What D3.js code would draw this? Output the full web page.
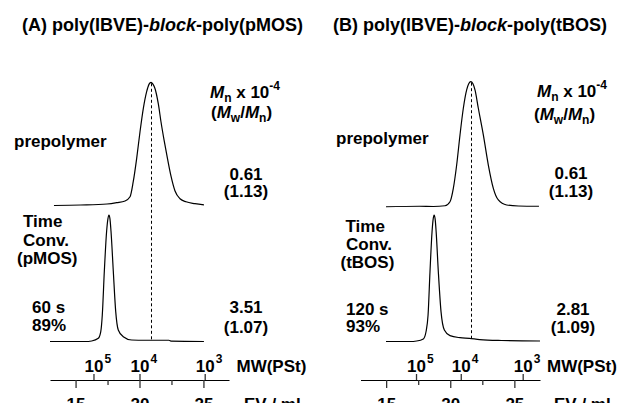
<!DOCTYPE html>
<html><head><meta charset="utf-8">
<script src="https://cdn.jsdelivr.net/npm/d3@7"></script>
<style>
html,body{margin:0;padding:0;background:#fff;}
svg{display:block;}
text{font-family:"Liberation Sans",Arial,Helvetica,sans-serif;font-weight:bold;fill:#000;}
</style></head><body><svg id="chart" width="621" height="403"></svg>
<script>
// ---------- DATA ----------
const evDomain = [13, 27];
const evTicks = [15, 17.5, 20, 22.5, 25];
const mwExponents = [5, 4, 3];
const mwEV_A = [16.4, 20.0, 25.1];
const mwEV_B = [17.33, 20.82, 25.65];

// [elution volume (ml), normalized RI intensity (%)]
const prepolymerA = [[13.31,0],[15.4,0.4],[17.46,1.2],[18.22,2.3],[18.87,3.7],[19.26,7.1],[19.51,19.3],[19.78,38.3],[20.04,59.9],[20.30,78.9],[20.56,92.4],[20.75,98.5],[20.90,100],[21.05,98.5],[21.21,95],[21.48,82],[21.68,68],[21.94,52],[22.19,38],[22.46,24],[22.77,12],[23.17,5.5],[23.64,3],[24.34,1.5],[25.04,0.5]];
const blockA = [[13.0,0],[15.74,0],[16.26,0.4],[16.78,2.5],[16.97,7.8],[17.09,21],[17.25,55.7],[17.43,87.3],[17.53,97],[17.61,100],[17.69,97],[17.77,87.3],[17.95,55.7],[18.14,23.6],[18.34,9.1],[18.73,3.8],[19.39,1.2],[20.43,1.0],[22.3,1.0],[22.5,0.3],[25.04,0]];
const prepolymerB = [[14.99,0.2],[17.6,0.6],[18.68,0.4],[19.59,1.0],[19.98,4.2],[20.24,14.9],[20.50,33.5],[20.76,57.5],[21.02,78.8],[21.28,93.4],[21.45,98.5],[21.60,100],[21.76,98.5],[21.93,93.4],[22.19,78.8],[22.58,57.5],[22.97,33.5],[23.36,14.9],[23.75,5.6],[24.40,1.6],[25.31,0.8],[26.92,0.6]];
const blockB = [[14.99,0],[16.86,0],[17.38,0.4],[17.90,2.0],[18.11,7.7],[18.27,20.9],[18.42,55.2],[18.58,86.8],[18.67,97],[18.74,100],[18.82,97],[18.90,86.8],[19.07,55.2],[19.28,23.6],[19.54,9.1],[19.98,4.6],[20.76,3.0],[21.49,2.5],[22.3,1.5],[24.0,0.8],[27.0,0.4]];
const prepolymerPeakEV = [20.90, 21.60];

const panelLetters = ["(A)", "(B)"];
const monomers = ["pMOS", "tBOS"];
const prepolymerMn = ["0.61", "0.61"];
const prepolymerPDI = ["(1.13)", "(1.13)"];
const blockTime = ["60 s", "120 s"];
const blockConv = ["89%", "93%"];
const blockMn = ["3.51", "2.81"];
const blockPDI = ["(1.07)", "(1.09)"];

// ---------- LAYOUT ----------
const svg = d3.select("#chart");
const FS = 17;
const panels = [
  {xr:[50,229], mwEV: mwEV_A, pre: prepolymerA, blk: blockA,
   title:[22,31], preLbl:[14,147], mnHdr:[210,97.5], pdiHdr:[211,118], preNum:[246,180,197],
   time:[[23,226.5],[23,245.5],[17,264]], tc:[[32,313.3],[32,330.7]], blkNum:[246,313.3,332.7],
   preY:[205.5,82.3], blkY:[341.5,215], mwLbl:236.5, evLbl:244},
  {xr:[360.5,540], mwEV: mwEV_B, pre: prepolymerB, blk: blockB,
   title:[333,31], preLbl:[336,144], mnHdr:[537,97], pdiHdr:[534,120], preNum:[571,179,197],
   time:[[345.5,231.5],[346,250],[340.5,268]], tc:[[346,315],[346,332]], blkNum:[573,315,333],
   preY:[207,81.7], blkY:[341.5,215], mwLbl:547, evLbl:554}
];

function txt(x, y, s, anchor) {
  return svg.append("text").attr("x", x).attr("y", y).attr("font-size", FS)
    .attr("text-anchor", anchor || "start").text(s);
}

panels.forEach((p, i) => {
  const x = d3.scaleLinear().domain(evDomain).range(p.xr);
  const yPre = d3.scaleLinear().domain([0,100]).range(p.preY);
  const yBlk = d3.scaleLinear().domain([0,100]).range(p.blkY);

  // title
  const t = svg.append("text").attr("x", p.title[0]).attr("y", p.title[1]).attr("font-size", 18);
  t.append("tspan").text(panelLetters[i] + " poly(IBVE)-");
  t.append("tspan").attr("font-style", "italic").text("block");
  t.append("tspan").text("-poly(" + monomers[i] + ")");

  // traces
  const line = (ys) => d3.line().x(d => x(d[0])).y(d => ys(d[1])).curve(d3.curveMonotoneX);
  svg.append("path").datum(p.pre).attr("d", line(yPre)).attr("fill","none").attr("stroke","#000").attr("stroke-width",1.2);
  svg.append("path").datum(p.blk).attr("d", line(yBlk)).attr("fill","none").attr("stroke","#000").attr("stroke-width",1.2);

  // dashed peak line
  const dx = Math.round(x(prepolymerPeakEV[i])) + 0.5;
  svg.append("line")
    .attr("x1", dx).attr("x2", dx)
    .attr("y1", yPre(100) + 1).attr("y2", yBlk(1))
    .attr("stroke","#000").attr("stroke-width",1).attr("stroke-dasharray","3,2.5");

  // EV axis
  const ax = svg.append("g").attr("transform","translate(0,380)")
    .call(d3.axisBottom(x).tickValues(evTicks).tickSizeInner(8).tickSizeOuter(0).tickPadding(10)
      .tickFormat(d => Number.isInteger(d) ? d : ""));
  ax.attr("font-size", FS).attr("font-family", null);
  ax.select(".domain").attr("stroke-width", 1.1);
  ax.selectAll(".tick line").attr("stroke-width", 1.3).attr("stroke", "#333")
    .attr("y2", d => Number.isInteger(d) ? 8 : 5);

  // MW axis (upward ticks)
  const mx = svg.append("g").attr("transform","translate(0,380)")
    .call(d3.axisTop(x).tickValues(p.mwEV).tickSizeInner(6).tickSizeOuter(0).tickPadding(2)
      .tickFormat(() => "10"));
  mx.attr("font-size", FS).attr("font-family", null);
  mx.select(".domain").remove();
  mx.selectAll(".tick line").attr("stroke-width", 1.3).attr("stroke", "#333");
  mx.selectAll(".tick text").each(function(d, k) {
    const el = d3.select(this);
    const w = this.getComputedTextLength();
    el.attr("text-anchor", "start").attr("x", -w/2);
    el.append("tspan").attr("dy", -9).attr("dx", 1).attr("font-size", 12).text(mwExponents[k]);
  });
  txt(p.mwLbl, 372.3, "MW(PSt)");
  txt(p.evLbl, 410, "EV / ml");

  // headers
  const h1 = svg.append("text").attr("x", p.mnHdr[0]).attr("y", p.mnHdr[1]).attr("font-size", FS);
  h1.append("tspan").attr("font-style","italic").text("M");
  h1.append("tspan").attr("font-size", 12).attr("dy", 4).text("n");
  h1.append("tspan").attr("dy", -4).text(" x 10");
  h1.append("tspan").attr("font-size", 12).attr("dy", -8).text("-4");
  const h2 = svg.append("text").attr("x", p.pdiHdr[0]).attr("y", p.pdiHdr[1]).attr("font-size", FS);
  h2.append("tspan").text("(");
  h2.append("tspan").attr("font-style","italic").text("M");
  h2.append("tspan").attr("font-size", 12).attr("dy", 4).text("w");
  h2.append("tspan").attr("dy", -4).text("/");
  h2.append("tspan").attr("font-style","italic").text("M");
  h2.append("tspan").attr("font-size", 12).attr("dy", 4).text("n");
  h2.append("tspan").attr("dy", -4).text(")");

  // labels
  txt(p.preLbl[0], p.preLbl[1], "prepolymer");
  txt(p.preNum[0], p.preNum[1], prepolymerMn[i], "middle");
  txt(p.preNum[0], p.preNum[2], prepolymerPDI[i], "middle");
  txt(p.time[0][0], p.time[0][1], "Time");
  txt(p.time[1][0], p.time[1][1], "Conv.");
  txt(p.time[2][0], p.time[2][1], "(" + monomers[i] + ")");
  txt(p.tc[0][0], p.tc[0][1], blockTime[i]);
  txt(p.tc[1][0], p.tc[1][1], blockConv[i]);
  txt(p.blkNum[0], p.blkNum[1], blockMn[i], "middle");
  txt(p.blkNum[0], p.blkNum[2], blockPDI[i], "middle");
});
</script></body></html>
